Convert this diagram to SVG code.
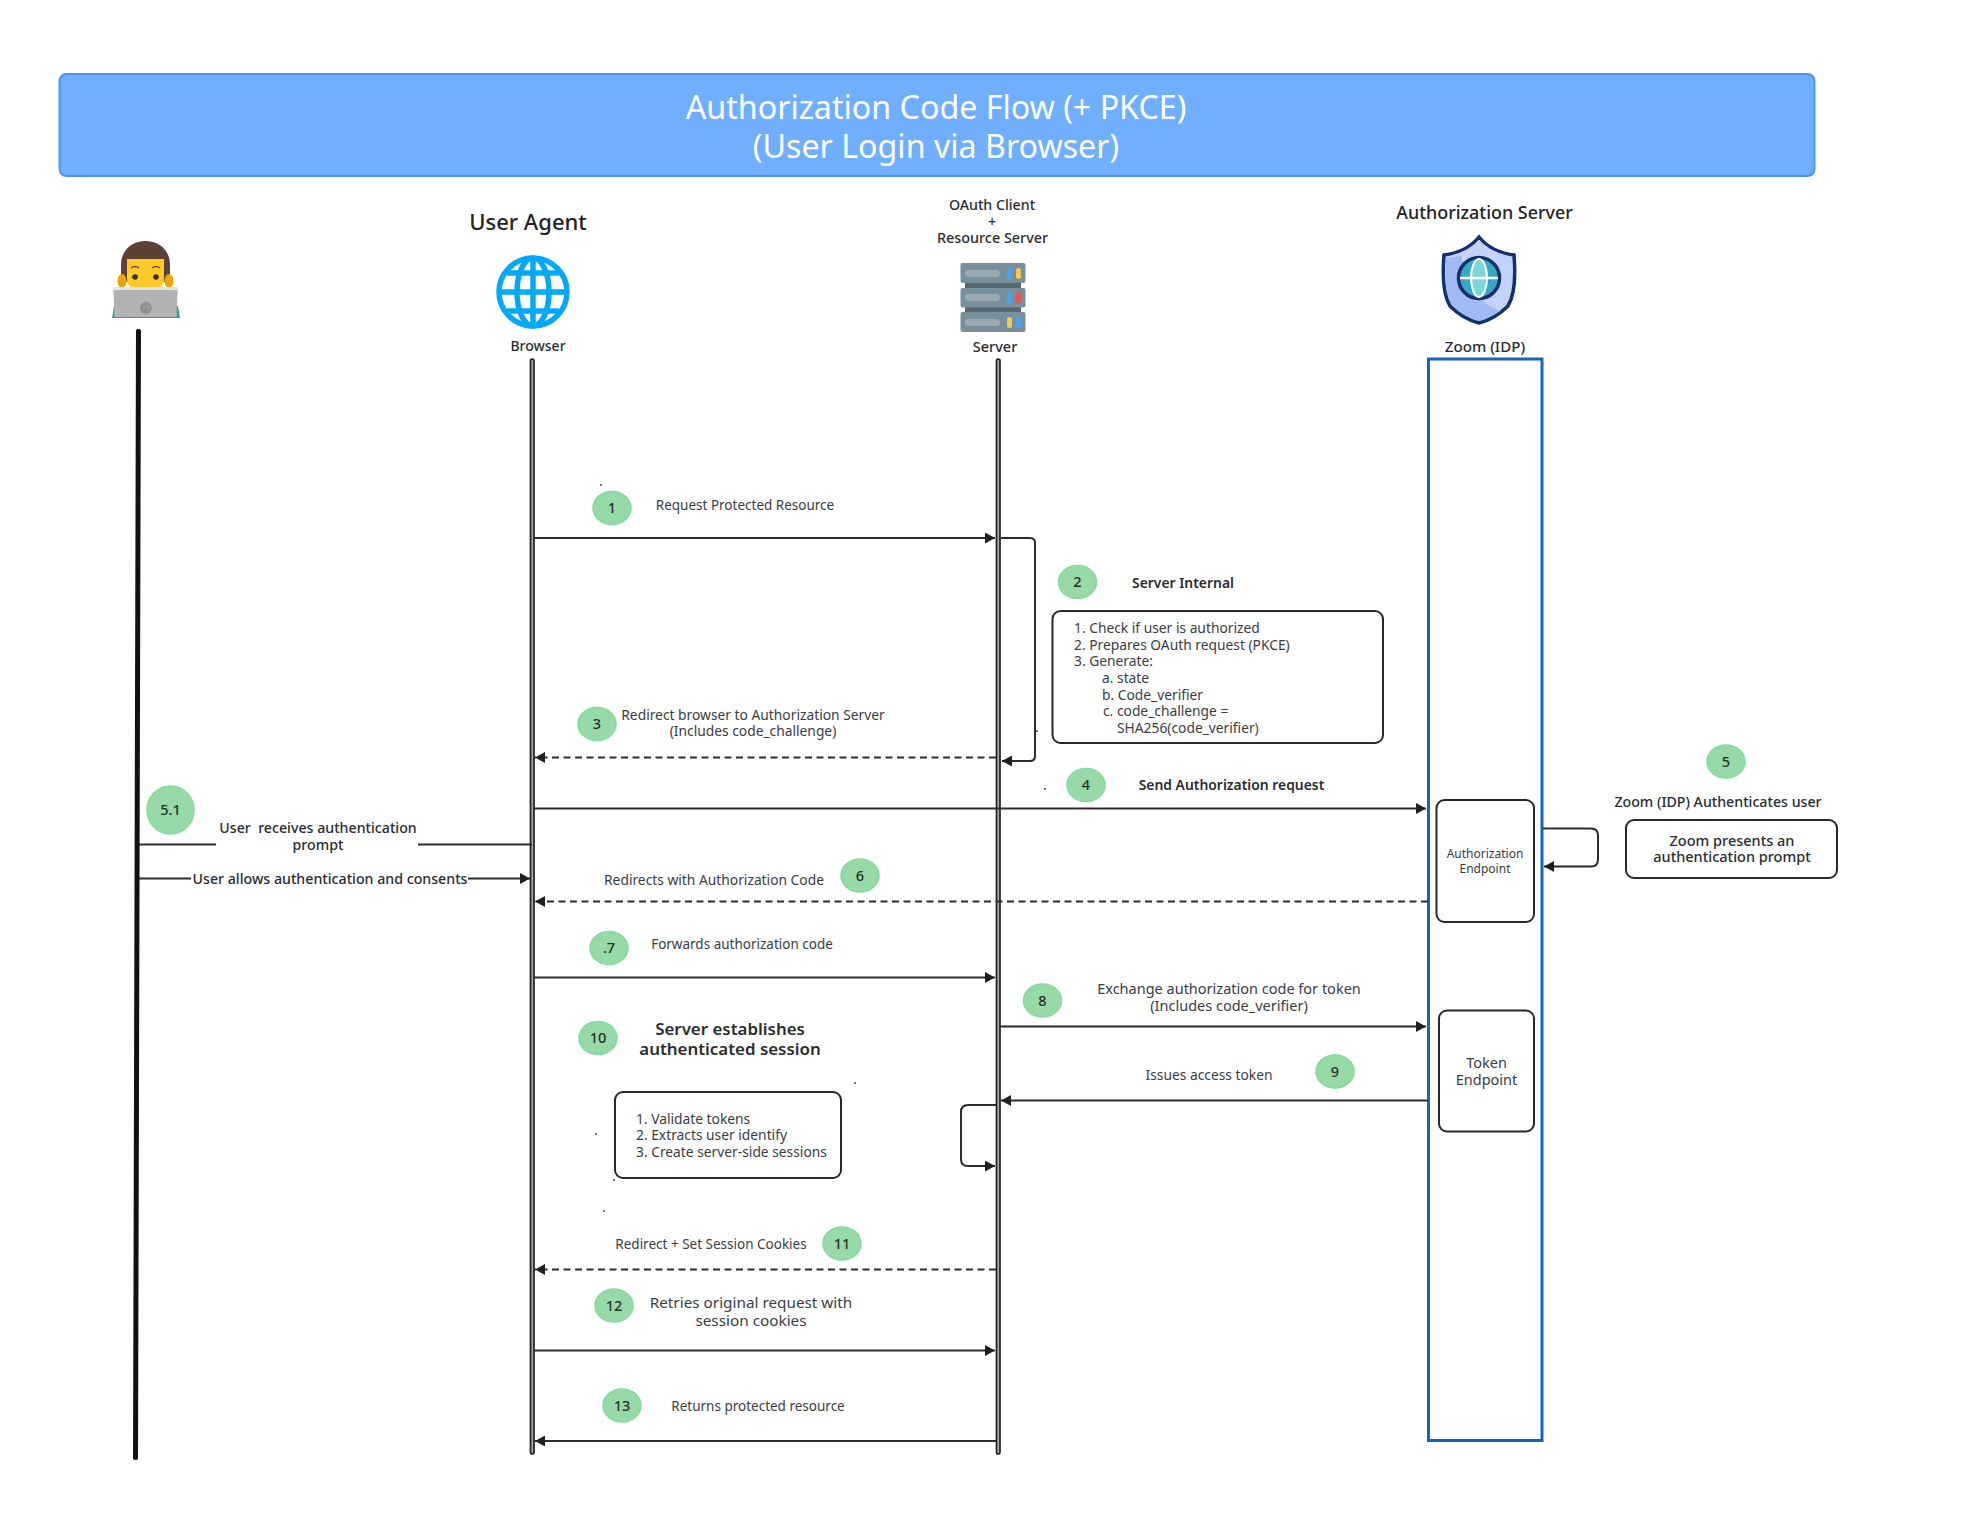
<svg xmlns="http://www.w3.org/2000/svg" width="1962" height="1516" viewBox="0 0 1962 1516">
<style>
text{font-family:"Noto Sans","Open Sans","Liberation Sans",sans-serif;fill:#3a3d42;text-anchor:middle;font-size:13.800px}
.s{text-anchor:start}
.t{font-size:13.500px}
.m{font-weight:500;fill:#2a2c30;font-size:14.200px}
.b{font-weight:600;fill:#2a2c30;font-size:13.900px}
.h{font-weight:500;fill:#222}
.n{font-weight:500;fill:#25302a;font-size:14.500px}
.badge{fill:#98d9a8;stroke:#82dc9c;stroke-width:1.500}
.box{fill:#fff;stroke:#26282c;stroke-width:2}
.c{fill:none;stroke:#2a2c30;stroke-width:2}
.a{marker-end:url(#arr)}
.d{stroke-dasharray:7 4.500}
.life{fill:#a8a8a8;stroke:#222;stroke-width:1.700}
.dot{fill:#333}
.tt{fill:#fff;font-size:32.200px}
</style>
<defs>
<marker id="arr" markerUnits="userSpaceOnUse" markerWidth="12" markerHeight="12" refX="10" refY="5.500" orient="auto"><path d="M0 0L10 5.500L0 11Z" fill="#1f2024"/></marker>
</defs>
<rect width="1962" height="1516" fill="#fff"/>
<g id="title">
<rect x="59.500" y="74" width="1755" height="102" rx="7" fill="#70aeff" stroke="#4b93ee" stroke-width="2"/>
<text class="tt" x="936" y="119">Authorization Code Flow (+ PKCE)</text>
<text class="tt" x="936" y="157.500">(User Login via Browser)</text>
</g>
<g id="user">
<path d="M112 318l2-12h64l2 12z" fill="#26a69a"/>
<path d="M121 282V265c0-32 49-32 49 0v17z" fill="#5d4037"/>
<ellipse cx="122" cy="281" rx="4.500" ry="7" fill="#eda600"/><ellipse cx="169" cy="281" rx="4.500" ry="7" fill="#eda600"/>
<path d="M127 259h37v22q-2 10-18.500 10t-18.500-10z" fill="#ffca28"/>
<path d="M131 268q4-3 8 0M152 268q4-3 8 0" fill="none" stroke="#6d4c41" stroke-width="1.300"/>
<circle cx="135" cy="277" r="2.800" fill="#3a2f2b"/><circle cx="156" cy="277" r="2.800" fill="#3a2f2b"/>
<rect x="112.500" y="287" width="66" height="8" rx="2" fill="#e4e4e4"/>
<path d="M113.500 292q0-2 3-2h58q3 0 3 2l-1 25h-62z" fill="#b2b2b2"/>
<circle cx="146" cy="308" r="6" fill="#8f8f8f"/><circle cx="144" cy="306.500" r="1" fill="#b2b2b2"/><circle cx="148" cy="306.500" r="1" fill="#b2b2b2"/>
</g>
<g id="browser">
<text class="h" x="528" y="229.500" style="font-size:22px">User Agent</text>
<g fill="none" stroke="#03a9f4" stroke-width="5.500">
<ellipse cx="533" cy="292" rx="34" ry="34"/><ellipse cx="533" cy="292" rx="16" ry="34"/>
<path d="M533 258v68M499 292h68M507 273h52M507 311h52"/>
</g>
<text class="m" x="538" y="351" style="font-size:14px">Browser</text>
<rect class="life" x="530.500" y="359" width="3.500" height="1095" rx="1.700"/>
</g>
<g id="server">
<text class="m" x="992" y="210">OAuth Client</text>
<text class="m" x="992" y="227">+</text>
<text class="m" x="992.500" y="243" style="font-size:14.400px">Resource Server</text>
<rect x="965" y="283" width="56" height="5" fill="#56676f"/><rect x="965" y="307" width="56" height="5" fill="#56676f"/>
<rect x="960.500" y="263" width="65" height="20" rx="2" fill="#78909c"/><rect x="960.500" y="288" width="65" height="19.500" rx="2" fill="#78909c"/><rect x="960.500" y="312" width="65" height="20" rx="2" fill="#78909c"/>
<rect x="965" y="270" width="35" height="7" rx="3.500" fill="#9aabb3"/><rect x="965" y="294" width="35" height="7" rx="3.500" fill="#9aabb3"/><rect x="965" y="319" width="35" height="7" rx="3.500" fill="#9aabb3"/>
<rect x="1007" y="268" width="5" height="11" rx="2.500" fill="#42a5f5"/><rect x="1016" y="268" width="5" height="11" rx="2.500" fill="#fbc94e"/>
<rect x="1007" y="292" width="5" height="11" rx="2.500" fill="#42a5f5"/><rect x="1016" y="292" width="5" height="11" rx="2.500" fill="#ef5350"/>
<rect x="1007" y="317" width="5" height="11" rx="2.500" fill="#fbc94e"/><rect x="1016" y="317" width="5" height="11" rx="2.500" fill="#42a5f5"/>
<text class="m" x="995" y="352" style="font-size:14.500px">Server</text>
<rect class="life" x="996.500" y="359" width="3.500" height="1095" rx="1.700"/>
</g>
<g id="authserver">
<text class="h" x="1484.500" y="218.500" style="font-size:17.900px">Authorization Server</text>
<path d="M1479 237q-12 15-35 18q-3 36 6 51q13 13 29 17q16-4 29-17q9-15 6-51q-23-3-35-18z" fill="#c5d3fb" stroke="#12306e" stroke-width="3.500"/>
<path d="M1446 258q-3 31 6 47q12 12 27 16q11-3 21-10q-30-10-39-55z" fill="#a1b9f5"/>
<circle cx="1479" cy="278" r="20.500" fill="#35a9c4" stroke="#12306e" stroke-width="3.500"/>
<ellipse cx="1479" cy="278" rx="8" ry="19" fill="#7fd6d6" stroke="#fff" stroke-width="2"/>
<path d="M1460 278h38" stroke="#fff" stroke-width="2.500"/>
<text class="m" x="1485" y="352" style="font-size:15.100px">Zoom (IDP)</text>
<rect x="1428.500" y="359" width="113.500" height="1081.500" fill="#fff" stroke="#1565c0" stroke-width="3"/>
<g id="auth-endpoint"><rect class="box" x="1436.500" y="800" width="97.500" height="122" rx="8"/>
<text x="1485" y="858" style="font-size:12px">Authorization</text><text x="1485" y="873" style="font-size:12px">Endpoint</text></g>
<g id="token-endpoint"><rect class="box" x="1439" y="1010.500" width="95" height="121" rx="8"/>
<text x="1486.500" y="1068" style="font-size:14.500px">Token</text><text x="1486.500" y="1085" style="font-size:14.500px">Endpoint</text></g>
</g>
<g id="connectors">
<path class="c" d="M139 844.500H216M418 844.500H532"/>
<path class="c a" d="M139 878.500H191M468 878.500H530"/>
<path class="c a" d="M534 538H995"/>
<path class="c" d="M1001 538H1030q5 0 5 5V756q0 5-5 5H1013"/>
<path class="c a" d="M1014 761H1002"/>
<path class="c a d" d="M996 757.500H535"/>
<path class="c a" d="M534 808.500H1426"/>
<path class="c" d="M1543 828.500H1591q7 0 7 7V859.500q0 7-7 7H1556"/>
<path class="c a" d="M1556 866.500H1544"/>
<path class="c a d" d="M1428 901.500H535"/>
<path class="c a" d="M534 977.500H995"/>
<path class="c a" d="M1000 1026.500H1426"/>
<path class="c a" d="M1428 1100.500H1001"/>
<path class="c" d="M996 1105H968q-7 0-7 7V1159q0 7 7 7H984"/>
<path class="c a" d="M984 1166H995"/>
<path class="c a d" d="M996 1269.500H535"/>
<path class="c a" d="M534 1350.500H995"/>
<path class="c a" d="M996 1441H535"/>
</g>
<g id="step1"><ellipse class="badge" cx="612" cy="508" rx="19" ry="16.500"/><text class="n" x="612" y="513">1</text><text class="t" x="745" y="509.500">Request Protected Resource</text></g>
<g id="step2"><ellipse class="badge" cx="1077.500" cy="582" rx="19" ry="16.500"/><text class="n" x="1077.500" y="587">2</text><text class="b" x="1183" y="588">Server Internal</text>
<rect class="box" x="1052.500" y="611" width="330.500" height="132" rx="8"/>
<text class="s" x="1074" y="633">1. Check if user is authorized</text>
<text class="s" x="1074" y="649.500">2. Prepares OAuth request (PKCE)</text>
<text class="s" x="1074" y="666">3. Generate:</text>
<text class="s" x="1102" y="683">a. state</text>
<text class="s" x="1102" y="699.500">b. Code_verifier</text>
<text class="s" x="1103" y="716">c. code_challenge =</text>
<text class="s" x="1117" y="732.500">SHA256(code_verifier)</text></g>
<g id="step3"><ellipse class="badge" cx="597" cy="724" rx="19" ry="16.500"/><text class="n" x="597" y="729">3</text><text x="753" y="719.500">Redirect browser to Authorization Server</text><text x="753" y="736">(Includes code_challenge)</text></g>
<g id="step4"><ellipse class="badge" cx="1086" cy="785" rx="19" ry="16.500"/><text class="n" x="1086" y="790">4</text><text class="b" x="1231.500" y="790">Send Authorization request</text></g>
<g id="step5"><ellipse class="badge" cx="1726" cy="761.500" rx="19" ry="16.500"/><text class="n" x="1726" y="767">5</text><text class="m" x="1718" y="807">Zoom (IDP) Authenticates user</text>
<rect class="box" x="1626" y="820" width="211" height="58" rx="8"/><text class="m" x="1732" y="846" style="font-size:14.500px">Zoom presents an</text><text class="m" x="1732" y="862" style="font-size:14.500px">authentication prompt</text></g>
<g id="step5-1"><ellipse class="badge" cx="170.500" cy="810" rx="23.500" ry="24"/><text class="n" x="170.500" y="815">5.1</text><text class="m" x="318" y="832.500">User&#160; receives authentication</text><text class="m" x="318" y="850">prompt</text><text class="m" x="330" y="883.500">User allows authentication and consents</text></g>
<g id="step6"><ellipse class="badge" cx="860" cy="875.500" rx="19" ry="16.500"/><text class="n" x="860" y="880.500">6</text><text x="714" y="885">Redirects with Authorization Code</text></g>
<g id="step7"><ellipse class="badge" cx="609" cy="948" rx="19" ry="16.500"/><text class="n" x="609" y="953">.7</text><text class="t" x="742" y="948.500">Forwards authorization code</text></g>
<g id="step8"><ellipse class="badge" cx="1042.500" cy="1000.500" rx="19" ry="16.500"/><text class="n" x="1042.500" y="1005.500">8</text><text x="1229" y="994" style="font-size:14.500px">Exchange authorization code for token</text><text x="1229" y="1011" style="font-size:14.500px">(Includes code_verifier)</text></g>
<g id="step9"><ellipse class="badge" cx="1335" cy="1071.500" rx="19" ry="16.500"/><text class="n" x="1335" y="1076.500">9</text><text x="1209" y="1080">Issues access token</text></g>
<g id="step10"><ellipse class="badge" cx="598" cy="1038" rx="19" ry="16.500"/><text class="n" x="598" y="1043">10</text><text class="b" x="730" y="1035" style="font-size:16.900px">Server establishes</text><text class="b" x="730" y="1055" style="font-size:16.900px">authenticated session</text>
<rect class="box" x="615" y="1092" width="226" height="86" rx="8"/>
<text class="s" x="636" y="1123.500">1. Validate tokens</text><text class="s" x="636" y="1140">2. Extracts user identify</text><text class="s" x="636" y="1157">3. Create server-side sessions</text></g>
<g id="step11"><ellipse class="badge" cx="842" cy="1243.500" rx="19" ry="16.500"/><text class="n" x="842" y="1249">11</text><text class="t" x="711" y="1249">Redirect + Set Session Cookies</text></g>
<g id="step12"><ellipse class="badge" cx="614" cy="1305.500" rx="19" ry="16.500"/><text class="n" x="614" y="1310.500">12</text><text x="751" y="1308" style="font-size:15.300px">Retries original request with</text><text x="751" y="1326" style="font-size:15.300px">session cookies</text></g>
<g id="step13"><ellipse class="badge" cx="622" cy="1405.500" rx="19" ry="16.500"/><text class="n" x="622" y="1410.500">13</text><text class="t" x="758" y="1410.500">Returns protected resource</text></g>
<rect id="user-line" x="134.500" y="329" width="5" height="1131" fill="#111" rx="2" transform="rotate(0.15 137 894)"/>
<g id="specks" class="dot"><circle cx="601" cy="485" r="0.900"/><circle cx="1037" cy="731" r="0.900"/><circle cx="1045" cy="789" r="0.900"/><circle cx="855" cy="1083" r="0.900"/><circle cx="596" cy="1134" r="0.900"/><circle cx="614" cy="1180" r="0.900"/><circle cx="604" cy="1211" r="0.900"/></g>
</svg>
